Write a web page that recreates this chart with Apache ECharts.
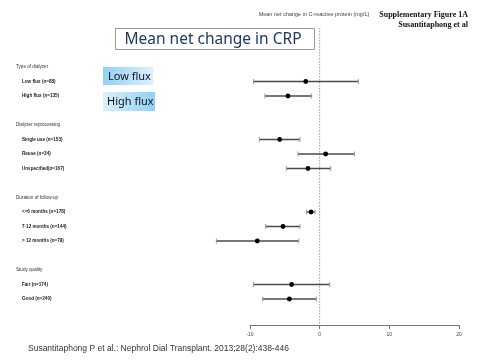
<!DOCTYPE html>
<html><head><meta charset="utf-8">
<script src="https://cdn.jsdelivr.net/npm/echarts@6/dist/echarts.min.js"></script>
<style>html,body{margin:0;padding:0;background:#fff}#c{width:480px;height:360px}</style>
</head><body><div id="c"></div>
<script>
const groupTitles = ['Type of dialyzer', 'Dialyzer reprocessing', 'Duration of follow-up', 'Study quality'];
const groupSizes = [2, 3, 3, 2];
const subgroups = ['Low flux (n=88)', 'High flux (n=135)', 'Single use (n=153)', 'Reuse (n=34)', 'Unspecified(n=167)',
  '<=6 months (n=178)', '7-12 months (n=144)', '> 12 months (n=79)', 'Fair (n=174)', 'Good (n=240)'];
const means = [-2.0, -4.55, -5.74, 0.86, -1.68, -1.24, -5.26, -8.95, -4.02, -4.35];
const lowers = [-9.5, -7.85, -8.65, -3.11, -4.78, -1.87, -7.75, -14.83, -9.52, -8.18];
const uppers = [5.55, -1.15, -2.83, 4.98, 1.58, -0.67, -2.83, -3.0, 1.44, -0.48];
const xTicks = [-10, 0, 10, 20];
const refValue = [0];

// build rows
const rows = [];
const rowIsHeader = [];
const subRowIndex = [];
let k = 0;
groupTitles.forEach((g, gi) => {
  rows.push(g); rowIsHeader.push(true);
  for (let j = 0; j < groupSizes[gi]; j++) {
    subRowIndex.push(rows.length);
    rows.push(subgroups[k++]); rowIsHeader.push(false);
  }
  if (gi < groupTitles.length - 1) { rows.push(' '.repeat(gi + 1)); rowIsHeader.push(null); }
});
const barData = subgroups.map((s, i) => [lowers[i], uppers[i], means[i], subRowIndex[i]]);

const FONT = 'Liberation Sans';
const chart = echarts.init(document.getElementById('c'), null, {renderer: 'canvas'});
chart.setOption({
  animation: false,
  backgroundColor: '#fff',
  grid: [
    {left: 250, right: 21, top: 59.75, height: 246.5},
    {left: 250, right: 21, top: 28, bottom: 35}
  ],
  xAxis: [
    {gridIndex: 0, type: 'value', min: xTicks[0], max: xTicks[xTicks.length - 1], show: false},
    {gridIndex: 1, type: 'value', min: xTicks[0], max: xTicks[xTicks.length - 1], interval: 10,
      axisLine: {show: true, lineStyle: {color: '#777', width: 1}},
      axisTick: {show: true, length: 4, lineStyle: {color: '#777'}},
      axisLabel: {fontSize: 5, color: '#444', margin: 7, fontFamily: FONT},
      splitLine: {show: false}}
  ],
  yAxis: [
    {gridIndex: 0, type: 'category', inverse: true, data: rows,
      axisLine: {show: false}, axisTick: {show: false}, splitLine: {show: false},
      axisLabel: {interval: 0, align: 'left', margin: 234,
        formatter: (v, i) => rowIsHeader[i] === true ? '{h|' + v + '}' : (rowIsHeader[i] === false ? '{i|' + v + '}' : ''),
        rich: {
          h: {fontSize: 4.6, color: '#333', fontFamily: FONT},
          i: {fontSize: 4.6, color: '#222', fontWeight: 'bold', fontFamily: FONT, padding: [0, 0, 0, 6]}
        }}},
    {gridIndex: 1, type: 'value', min: 0, max: 1, show: false}
  ],
  series: [
    {type: 'custom', xAxisIndex: 1, yAxisIndex: 1, data: refValue.map(v => [v]),
      clip: false, silent: true,
      renderItem(params, api) {
        const cs = params.coordSys;
        const p = api.coord([api.value(0), 0]);
        return {type: 'line', shape: {x1: p[0], y1: cs.y, x2: p[0], y2: cs.y + cs.height},
          style: {stroke: '#999', lineWidth: 1, lineDash: [1.5, 1.5]}};
      }},
    {type: 'custom', xAxisIndex: 0, yAxisIndex: 0, data: barData, clip: false,
      encode: {x: [0, 1, 2], y: 3},
      renderItem(params, api) {
        const y = api.value(3);
        const lo = api.coord([api.value(0), y]);
        const hi = api.coord([api.value(1), y]);
        const m = api.coord([api.value(2), y]);
        const h = 2.5;
        return {type: 'group', children: [
          {type: 'line', shape: {x1: lo[0], y1: lo[1], x2: hi[0], y2: hi[1]}, style: {stroke: '#4a4a4a', lineWidth: 1.4}},
          {type: 'line', shape: {x1: lo[0], y1: lo[1] - h, x2: lo[0], y2: lo[1] + h}, style: {stroke: '#999', lineWidth: 1}},
          {type: 'line', shape: {x1: hi[0], y1: hi[1] - h, x2: hi[0], y2: hi[1] + h}, style: {stroke: '#999', lineWidth: 1}},
          {type: 'circle', shape: {cx: m[0], cy: m[1], r: 2.4}, style: {fill: '#000'}}
        ]};
      }}
  ],
  graphic: [
    {type: 'rect', shape: {x: 115.5, y: 28.5, width: 199, height: 21}, style: {fill: '#fff', stroke: '#999', lineWidth: 1}},
    {type: 'text', x: 213, y: 39.5, style: {text: 'Mean net change in CRP', font: '15.5px "Noto Sans"', fill: '#1f3864', align: 'center', verticalAlign: 'middle'}},
    {type: 'rect', shape: {x: 103, y: 67, width: 50, height: 18},
      style: {fill: new echarts.graphic.LinearGradient(0, 0, 1, 0, [{offset: 0, color: '#8fd1f5'}, {offset: 1, color: '#dcf0fc'}])}},
    {type: 'text', x: 108, y: 76.5, style: {text: 'Low flux', font: '11px "Noto Sans"', fill: '#111', verticalAlign: 'middle'}},
    {type: 'rect', shape: {x: 103, y: 92, width: 52, height: 19},
      style: {fill: new echarts.graphic.LinearGradient(0, 0, 1, 0, [{offset: 0, color: '#dcf0fc'}, {offset: 1, color: '#8fd1f5'}])}},
    {type: 'text', x: 107, y: 101.5, style: {text: 'High flux', font: '11px "Noto Sans"', fill: '#111', verticalAlign: 'middle'}},
    {type: 'text', x: 314, y: 14, style: {text: 'Mean net change in C-reactive protein (mg/L)', font: '5.5px "Liberation Sans Narrow", "Liberation Sans"', fill: '#444', align: 'center', verticalAlign: 'middle'}},
    {type: 'text', x: 468, y: 15, style: {text: 'Supplementary Figure 1A', font: 'bold 8px "Liberation Serif"', fill: '#111', align: 'right', verticalAlign: 'middle'}},
    {type: 'text', x: 468, y: 24.5, style: {text: 'Susantitaphong et al', font: 'bold 8px "Liberation Serif"', fill: '#111', align: 'right', verticalAlign: 'middle'}},
    {type: 'text', x: 28, y: 349, style: {text: 'Susantitaphong P et al.: Nephrol Dial Transplant. 2013;28(2):438-446', font: '8.5px "Liberation Sans"', fill: '#333', verticalAlign: 'middle'}}
  ]
});
</script></body></html>
